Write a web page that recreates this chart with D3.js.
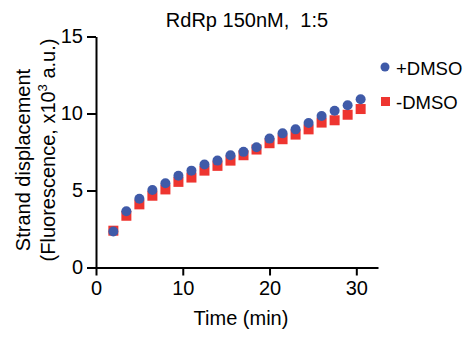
<!DOCTYPE html>
<html>
<head>
<meta charset="utf-8">
<script src="https://cdn.jsdelivr.net/npm/d3@7"></script>
<style>
  body { margin: 0; background: #fff; }
  svg { display: block; font-family: "Liberation Sans", Arial, sans-serif; }
</style>
</head>
<body>
<div id="chart"></div>
<script>
// time points (min)
const times = [2, 3.5, 5, 6.5, 8, 9.5, 11, 12.5, 14, 15.5, 17, 18.5, 20, 21.5, 23, 24.5, 26, 27.5, 29, 30.5];
// strand displacement, x10^3 a.u.
const plusDMSO = [2.34, 3.65, 4.47, 5.03, 5.47, 5.96, 6.29, 6.69, 6.94, 7.29, 7.51, 7.81, 8.37, 8.71, 8.97, 9.38, 9.84, 10.18, 10.53, 10.92];
const minusDMSO = [2.39, 3.36, 4.10, 4.66, 5.07, 5.56, 5.84, 6.29, 6.60, 6.94, 7.29, 7.66, 8.07, 8.33, 8.63, 8.97, 9.41, 9.56, 9.92, 10.29];
const xTicks = [0, 10, 20, 30];
const yTicks = [0, 5, 10, 15];

const width = 474, height = 337;
const blue = "#3f5aa8", red = "#ee3530";

const svg = d3.select("#chart").append("svg")
  .attr("width", width)
  .attr("height", height);

const x = d3.scaleLinear().domain([0, 32.5]).range([96, 378]);
const y = d3.scaleLinear().domain([0, 15]).range([267.5, 36.5]);

// axes
svg.append("g")
  .attr("transform", `translate(0,${y(0)})`)
  .call(d3.axisBottom(x).tickValues(xTicks).tickSize(8).tickPadding(5).tickSizeOuter(0))
  .call(g => g.selectAll("path, line").attr("stroke", "#000").attr("stroke-width", 2))
  .call(g => g.selectAll("text").attr("font-size", 20).attr("fill", "#000").attr("font-family", null));

svg.append("g")
  .attr("transform", `translate(${x(0)},0)`)
  .call(d3.axisLeft(y).tickValues(yTicks).tickSize(9).tickPadding(4).tickSizeOuter(0))
  .call(g => g.selectAll("path, line").attr("stroke", "#000").attr("stroke-width", 2))
  .call(g => g.selectAll("text").attr("font-size", 20).attr("fill", "#000").attr("font-family", null));

// points: squares first, circles on top
const sq = 10;
svg.append("g").selectAll("rect")
  .data(times.map((t, i) => [t, minusDMSO[i]]))
  .join("rect")
  .attr("x", d => x(d[0]) - sq / 2)
  .attr("y", d => y(d[1]) - sq / 2)
  .attr("width", sq)
  .attr("height", sq)
  .attr("fill", red);

svg.append("g").selectAll("circle")
  .data(times.map((t, i) => [t, plusDMSO[i]]))
  .join("circle")
  .attr("cx", d => x(d[0]))
  .attr("cy", d => y(d[1]))
  .attr("r", 5)
  .attr("fill", blue);

// title
svg.append("text")
  .attr("x", 247).attr("y", 27)
  .attr("text-anchor", "middle")
  .attr("font-size", 20)
  .style("white-space", "pre")
  .text("RdRp 150nM,  1:5");

// x label
svg.append("text")
  .attr("x", 241).attr("y", 325)
  .attr("text-anchor", "middle")
  .attr("font-size", 20)
  .text("Time (min)");

// y label, two lines
svg.append("text")
  .attr("transform", "translate(30,160) rotate(-90)")
  .attr("text-anchor", "middle")
  .attr("font-size", 20)
  .text("Strand displacement");

const yl2 = svg.append("text")
  .attr("transform", "translate(55,150) rotate(-90)")
  .attr("text-anchor", "middle")
  .attr("font-size", 20);
yl2.append("tspan").text("(Fluorescence, x10");
yl2.append("tspan").attr("font-size", 13).attr("dy", -8).text("3");
yl2.append("tspan").attr("dy", 8).text(" a.u.)");

// legend
const legend = svg.append("g");
legend.append("circle").attr("cx", 385).attr("cy", 67).attr("r", 4.5).attr("fill", blue);
legend.append("rect").attr("x", 381).attr("y", 97).attr("width", 9).attr("height", 9).attr("fill", red);
legend.append("text").attr("x", 396).attr("y", 74.5).attr("font-size", 18.5).text("+DMSO");
legend.append("text").attr("x", 396).attr("y", 108.5).attr("font-size", 18.5).text("-DMSO");
</script>
</body>
</html>
